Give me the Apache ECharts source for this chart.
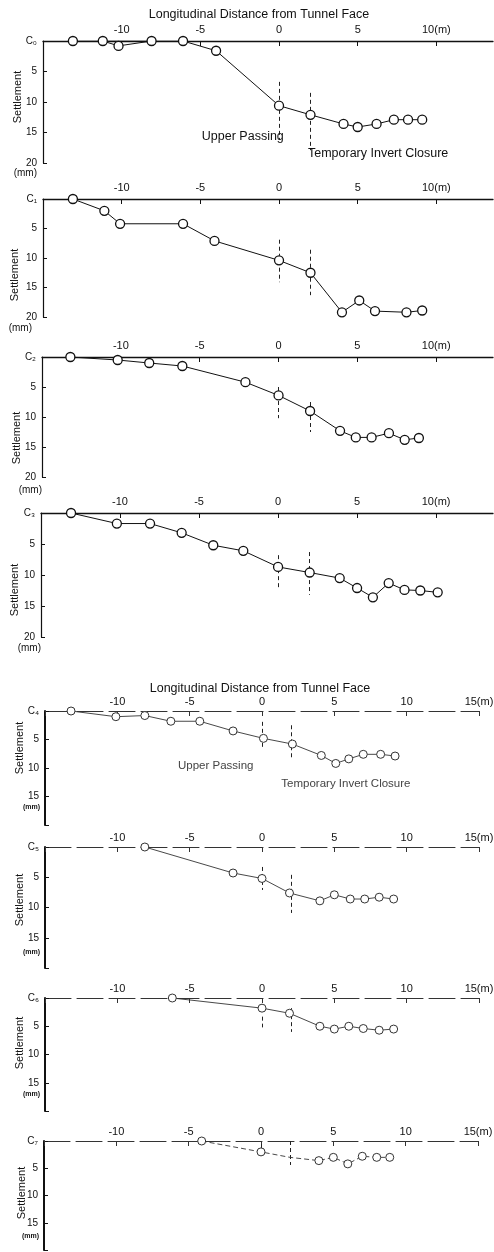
<!DOCTYPE html>
<html>
<head>
<meta charset="utf-8">
<script src="https://cdn.jsdelivr.net/npm/echarts@6/dist/echarts.min.js"></script>
<style>
  html, body { margin: 0; padding: 0; background: #fff; }
  #settlement_chart { width: 494px; height: 1252px; }
</style>
</head>
<body>
<div id="settlement_chart"></div>
<script>
// distance from tunnel face (m) and settlement (mm)
var distC0 = [-13.1, -11.2, -10.2, -8.1, -6.1, -4.0, 0, 2.0, 4.1, 5.0, 6.2, 7.3, 8.2, 9.1];
var settleC0 = [0, 0, 0.8, 0, 0, 1.6, 10.6, 12.1, 13.6, 14.1, 13.6, 12.9, 12.9, 12.9];
var distC0b = [-11.2, -8.1];
var settleC0b = [0, 0];

var distC1 = [-13.1, -11.1, -10.1, -6.1, -4.1, 0, 2.0, 4.0, 5.1, 6.1, 8.1, 9.1];
var settleC1 = [0, 2.0, 4.2, 4.2, 7.1, 10.4, 12.5, 19.2, 17.2, 19.0, 19.2, 18.9];

var distC2 = [-13.2, -10.2, -8.2, -6.1, -2.1, 0, 2.0, 3.9, 4.9, 5.9, 7.0, 8.0, 8.9];
var settleC2 = [0, 0.5, 1.0, 1.5, 4.2, 6.4, 9.0, 12.3, 13.4, 13.4, 12.7, 13.8, 13.5];

var distC3 = [-13.1, -10.2, -8.1, -6.1, -4.1, -2.2, 0, 2.0, 3.9, 5.0, 6.0, 7.0, 8.0, 9.0, 10.1];
var settleC3 = [0, 1.7, 1.7, 3.2, 5.2, 6.1, 8.7, 9.6, 10.5, 12.1, 13.6, 11.3, 12.4, 12.5, 12.8];

var distC4 = [-13.2, -10.1, -8.1, -6.3, -4.3, -2.0, 0.1, 2.1, 4.1, 5.1, 6.0, 7.0, 8.2, 9.2];
var settleC4 = [0, 1.0, 0.8, 1.8, 1.8, 3.5, 4.8, 5.8, 7.8, 9.2, 8.4, 7.6, 7.6, 7.9];

var distC5 = [-8.1, -2.0, 0, 1.9, 4.0, 5.0, 6.1, 7.1, 8.1, 9.1];
var settleC5 = [0, 4.3, 5.2, 7.6, 8.9, 7.9, 8.6, 8.6, 8.3, 8.6];

var distC6 = [-6.2, 0, 1.9, 4.0, 5.0, 6.0, 7.0, 8.1, 9.1];
var settleC6 = [0, 1.8, 2.7, 5.0, 5.5, 5.0, 5.4, 5.7, 5.5];

var distC7 = [-4.1, 0, 2.0, 4.0, 5.0, 6.0, 7.0, 8.0, 8.9];
var settleC7 = [0, 2.0, 3.0, 3.6, 3.0, 4.2, 2.8, 3.0, 3.0];
var noMarkerC7 = [2.0];

// y-extent (mm) of the dashed markers at 0 m (upper passing) and 2 m (invert closure)
var passLines = [[6.7, 16.2], [6.9, 14.1], [5.0, 10.2], [6.8, 12.4], [1.9, 6.8], [3.3, 7.1], [3.3, 5.2], [0.6, 2.4]];
var closeLines = [[8.5, 17.9], [8.6, 16.3], [7.5, 12.5], [6.3, 13.2], [2.5, 8.6], [4.6, 10.9], [1.8, 6.0], [0, 4.4]];

var FONT = "'Liberation Sans', 'DejaVu Sans', sans-serif";
var TITLE = 'Longitudinal Distance from Tunnel Face';

var panels = [
    { tag: 'C\u2080', dist: distC0, settle: settleC0, grid: { left: 43, top: 41, width: 450, height: 122 }, xMax: 13.6, old: true,  mm: 2, mmPad: 6, settleAt: [18, 97], title: 20, titlePad: 18,
      notes: [['Upper Passing', -2.3, 15.7], ['Temporary Invert Closure', 6.3, 18.4]] },
    { tag: 'C\u2081', dist: distC1, settle: settleC1, grid: { left: 43, top: 199, width: 450, height: 118 }, xMax: 13.6, old: true, mm: 6, mmPad: 11, settleAt: [15, 275] },
    { tag: 'C\u2082', dist: distC2, settle: settleC2, grid: { left: 42, top: 357, width: 451, height: 120 }, xMax: 13.6, old: true, mm: 8, mmPad: 0, settleAt: [17, 438] },
    { tag: 'C\u2083', dist: distC3, settle: settleC3, grid: { left: 41, top: 513, width: 452, height: 124 }, xMax: 13.6, old: true, mm: 6, mmPad: 0, settleAt: [15, 590] },
    { tag: 'C\u2084', dist: distC4, settle: settleC4, grid: { left: 45, top: 711, width: 434, height: 114 }, xMax: 15, old: false, mm: -21, mmPad: 5, settleAt: [20, 748], title: 11, titlePad: 4,
      notes: [['Upper Passing', -3.2, 9.6], ['Temporary Invert Closure', 5.8, 12.8]] },
    { tag: 'C\u2085', dist: distC5, settle: settleC5, grid: { left: 45, top: 847, width: 434, height: 121 }, xMax: 15, old: false, mm: -19, mmPad: 5, settleAt: [20, 900] },
    { tag: 'C\u2086', dist: distC6, settle: settleC6, grid: { left: 45, top: 998, width: 434, height: 113 }, xMax: 15, old: false, mm: -20, mmPad: 5, settleAt: [20, 1043] },
    { tag: 'C\u2087', dist: distC7, settle: settleC7, grid: { left: 44, top: 1141, width: 434, height: 109 }, xMax: 15, old: false, mm: -17, mmPad: 5, settleAt: [22, 1193], dashed: true, hide: noMarkerC7 }
];

var grids = [], xAxes = [], yAxes = [], series = [], graphics = [];

panels.forEach(function (p, i) {
    var ink = p.old ? '#111' : '#333';
    grids.push(Object.assign({ outerBoundsMode: 'none', containLabel: false }, p.grid));

    xAxes.push({
        gridIndex: i, type: 'value', position: 'top',
        min: -15, max: p.xMax, interval: 5,
        axisLine: { onZero: false, lineStyle: { color: ink, width: p.old ? 1.3 : 1.1, type: p.old ? 'solid' : [26, 6] } },
        axisTick: { inside: true, length: 5, lineStyle: { color: ink } },
        axisLabel: {
            margin: p.old ? 6 : 4, color: '#111', fontFamily: FONT, fontSize: 11,
            showMaxLabel: !p.old,
            formatter: function (v) {
                if (v === -15 || v % 5 !== 0) return '';
                if (v === 10 && p.old) return '10(m)';
                if (v === 15) return '15(m)';
                return String(v);
            }
        },
        splitLine: { show: false },
        name: p.title ? TITLE : '', nameLocation: 'middle', nameGap: p.title || 0,
        nameTextStyle: { color: '#111', fontFamily: FONT, fontSize: 12.5, padding: [0, p.titlePad || 0, 0, 0] }
    });

    yAxes.push({
        gridIndex: i, type: 'value', inverse: true,
        min: 0, max: 20, interval: 5,
        axisLine: { onZero: false, lineStyle: { color: '#111', width: p.old ? 1.2 : 2 } },
        axisTick: { inside: true, length: 4, lineStyle: { color: '#111' } },
        axisLabel: {
            margin: 6, color: '#111', fontFamily: FONT, fontSize: 10,
            formatter: function (v) {
                if (v === 0) return p.tag;
                if (v === 20 && !p.old) return '';
                return String(v);
            }
        },
        splitLine: { show: false },
        name: '(mm)', nameLocation: 'end', nameGap: p.mm,
        nameTextStyle: p.old
            ? { color: '#111', fontFamily: FONT, fontSize: 10, align: 'right', padding: [0, p.mmPad, 0, 0] }
            : { color: '#111', fontFamily: FONT, fontSize: 7, fontWeight: 'bold', align: 'right', padding: [0, p.mmPad, 0, 0] }
    });

    var hide = p.hide || [];
    series.push({
        type: 'line', xAxisIndex: i, yAxisIndex: i,
        data: p.dist.map(function (d, k) {
            var item = { value: [d, p.settle[k]] };
            if (hide.indexOf(d) >= 0) item.symbol = 'none';
            return item;
        }),
        symbol: 'circle', symbolSize: p.old ? 9 : 8,
        itemStyle: { color: '#fff', borderColor: ink, borderWidth: p.old ? 1.3 : 1 },
        lineStyle: { color: ink, width: p.old ? 1 : 0.9, type: p.dashed ? [5, 3] : 'solid' },
        animation: false, silent: true, z: 3,
        markLine: {
            silent: true, symbol: 'none', animation: false, z: 1,
            label: { show: false },
            lineStyle: { color: '#222', width: 1, type: [4, 3] },
            data: [
                [{ coord: [0, passLines[i][0]] }, { coord: [0, passLines[i][1]] }],
                [{ coord: [2, closeLines[i][0]] }, { coord: [2, closeLines[i][1]] }]
            ]
        },
        markPoint: p.notes ? {
            silent: true, symbol: 'circle', symbolSize: 0, animation: false,
            label: { show: true, position: 'inside', color: p.old ? '#111' : '#444', fontFamily: FONT, fontSize: p.old ? 12.5 : 11.5,
                     formatter: function (d) { return d.name; } },
            data: p.notes.map(function (n) { return { name: n[0], coord: [n[1], n[2]] }; })
        } : undefined
    });

    graphics.push({
        type: 'text', x: p.settleAt[0], y: p.settleAt[1], rotation: Math.PI / 2,
        style: { text: 'Settlement', font: '11px ' + FONT, fill: '#111', textAlign: 'center', textVerticalAlign: 'middle' }
    });
});

// second trace in C0 between -11 m and -8 m
series.push({
    type: 'line', xAxisIndex: 0, yAxisIndex: 0,
    data: distC0b.map(function (d, k) { return [d, settleC0b[k]]; }),
    symbol: 'none', lineStyle: { color: '#111', width: 1 }, animation: false, silent: true, z: 2
});

var chart = echarts.init(document.getElementById('settlement_chart'), null, { renderer: 'canvas' });
chart.setOption({
    backgroundColor: '#fff',
    animation: false,
    grid: grids,
    xAxis: xAxes,
    yAxis: yAxes,
    series: series,
    graphic: graphics
});
</script>
</body>
</html>
